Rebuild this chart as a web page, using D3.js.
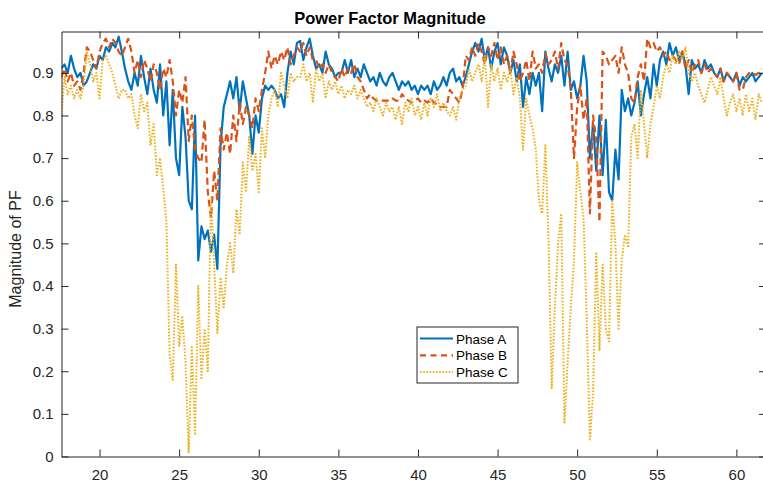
<!DOCTYPE html>
<html>
<head>
<meta charset="utf-8">
<script src="https://cdn.jsdelivr.net/npm/d3@7"></script>
<style>
  html, body { margin: 0; padding: 0; background: #fff; }
  svg { display: block; font-family: "Liberation Sans", Arial, Helvetica, sans-serif; }
</style>
</head>
<body>
<svg id="chart" width="763" height="482"></svg>
<script>
// Sample positions: time axis from 17.6 to 61.6 in steps of 0.2
const xStart = 17.6;
const xStep = 0.2;

const phaseA = [
  0.91,0.92,0.90,0.94,0.91, 0.89,0.90,0.87,0.88,0.90, 0.92,0.91,0.94,0.93,0.96,
  0.95,0.97,0.96,0.985,0.95, 0.91,0.88,0.86,0.90,0.87, 0.94,0.89,0.85,0.91,0.86,
  0.83,0.92,0.80,0.88,0.73, 0.86,0.70,0.66,0.82,0.75, 0.60,0.58,0.80,0.46,0.54,
  0.51,0.53,0.48,0.52,0.44, 0.73,0.82,0.85,0.88,0.84, 0.89,0.81,0.88,0.84,0.80,
  0.71,0.80,0.76,0.84,0.87, 0.86,0.87,0.86,0.84,0.85, 0.82,0.90,0.95,0.92,0.97,
  0.975,0.93,0.96,0.98,0.94, 0.91,0.92,0.90,0.95,0.92, 0.91,0.89,0.90,0.90,0.93,
  0.90,0.93,0.89,0.91,0.89, 0.92,0.90,0.88,0.89,0.87, 0.90,0.88,0.87,0.89,0.90,
  0.88,0.86,0.88,0.87,0.88, 0.86,0.87,0.85,0.87,0.86, 0.87,0.85,0.88,0.86,0.87,
  0.89,0.87,0.90,0.91,0.88, 0.89,0.87,0.89,0.92,0.95, 0.97,0.95,0.98,0.93,0.96,
  0.91,0.95,0.97,0.92,0.96, 0.94,0.90,0.93,0.88,0.92,
  0.82,0.89,0.85,0.90,0.87, 0.90,0.81,0.95,0.91,0.88, 0.92,0.90,0.94,0.87,0.95,
  0.86,0.88,0.84,0.87,0.94, 0.88,0.70,0.78,0.67,0.80, 0.66,0.79,0.62,0.60,0.72,
  0.65,0.86,0.81,0.84,0.80, 0.83,0.88,0.80,0.85,0.89, 0.84,0.92,0.87,0.93,0.95,
  0.92,0.97,0.94,0.96,0.93, 0.95,0.92,0.85,0.93,0.91, 0.92,0.90,0.93,0.91,0.92,
  0.90,0.89,0.91,0.88,0.90, 0.89,0.88,0.90,0.87,0.89, 0.88,0.89,0.90,0.88,0.89,
  0.90
];

const phaseB = [
  0.89,0.91,0.88,0.90,0.87, 0.88,0.86,0.90,0.96,0.95, 0.93,0.91,0.95,0.97,0.98,
  0.96,0.98,0.97,0.95,0.94, 0.96,0.98,0.95,0.90,0.93, 0.89,0.93,0.91,0.88,0.92,
  0.90,0.86,0.91,0.89,0.93, 0.88,0.80,0.86,0.83,0.89, 0.74,0.80,0.72,0.70,0.69,
  0.79,0.62,0.56,0.67,0.60, 0.77,0.72,0.76,0.71,0.80, 0.74,0.83,0.78,0.82,0.80,
  0.77,0.84,0.81,0.86,0.90, 0.95,0.91,0.94,0.92,0.95, 0.93,0.96,0.92,0.94,0.96,
  0.95,0.97,0.94,0.96,0.93, 0.93,0.91,0.92,0.90,0.92, 0.90,0.89,0.88,0.91,0.89,
  0.91,0.90,0.92,0.89,0.88, 0.86,0.84,0.85,0.84,0.835, 0.835,0.835,0.835,0.835,0.84,
  0.835,0.835,0.85,0.84,0.835, 0.83,0.835,0.84,0.83,0.835, 0.83,0.84,0.83,0.825,0.82,
  0.82,0.82,0.86,0.85,0.84, 0.83,0.86,0.94,0.93,0.96, 0.94,0.97,0.95,0.92,0.96,
  0.94,0.97,0.93,0.96,0.92, 0.94,0.90,0.95,0.92,0.88,
  0.90,0.93,0.88,0.95,0.91, 0.92,0.90,0.945,0.92,0.93, 0.95,0.91,0.97,0.93,0.92,
  0.86,0.70,0.82,0.87,0.79, 0.84,0.57,0.80,0.74,0.55, 0.95,0.94,0.92,0.93,0.94,
  0.90,0.96,0.92,0.90,0.84, 0.83,0.89,0.92,0.88,0.98, 0.96,0.97,0.95,0.96,0.94,
  0.95,0.93,0.94,0.93,0.92, 0.95,0.91,0.93,0.90,0.92, 0.93,0.90,0.92,0.90,0.91,
  0.90,0.89,0.91,0.88,0.90, 0.89,0.88,0.90,0.86,0.86, 0.89,0.90,0.90,0.895,0.90,
  0.91
];

const phaseC = [
  0.80,0.89,0.85,0.87,0.84, 0.86,0.84,0.87,0.95,0.92, 0.88,0.90,0.84,0.93,0.94,
  0.92,0.90,0.87,0.84,0.86, 0.86,0.84,0.85,0.80,0.77, 0.85,0.81,0.83,0.73,0.78,
  0.66,0.70,0.63,0.55,0.24, 0.18,0.45,0.26,0.33,0.22, 0.01,0.26,0.05,0.40,0.18,
  0.30,0.20,0.61,0.45,0.29, 0.42,0.35,0.45,0.50,0.43, 0.58,0.52,0.69,0.62,0.75,
  0.67,0.71,0.62,0.77,0.70, 0.80,0.84,0.86,0.82,0.90, 0.87,0.84,0.90,0.88,0.89,
  0.89,0.92,0.88,0.90,0.83, 0.91,0.88,0.90,0.84,0.88, 0.86,0.88,0.85,0.87,0.84,
  0.86,0.85,0.87,0.84,0.86, 0.84,0.82,0.83,0.81,0.84, 0.82,0.80,0.83,0.81,0.82,
  0.79,0.82,0.78,0.83,0.81, 0.84,0.80,0.82,0.79,0.83, 0.80,0.84,0.82,0.85,0.81,
  0.83,0.81,0.80,0.82,0.79, 0.84,0.86,0.87,0.91,0.88, 0.90,0.92,0.88,0.94,0.82,
  0.92,0.88,0.91,0.86,0.90, 0.88,0.91,0.85,0.89,0.84,
  0.72,0.84,0.80,0.77,0.72, 0.60,0.57,0.73,0.51,0.16, 0.35,0.50,0.57,0.08,0.22,
  0.35,0.46,0.69,0.62,0.56, 0.32,0.04,0.15,0.48,0.25, 0.45,0.30,0.27,0.60,0.50,
  0.30,0.46,0.52,0.49,0.75, 0.78,0.70,0.86,0.78,0.70, 0.78,0.82,0.87,0.84,0.89,
  0.92,0.90,0.94,0.92,0.95, 0.93,0.96,0.90,0.88,0.90, 0.87,0.85,0.83,0.86,0.89,
  0.87,0.85,0.89,0.84,0.80, 0.83,0.85,0.81,0.84,0.80, 0.85,0.81,0.84,0.79,0.85,
  0.83
];

const seriesNames = ["Phase A", "Phase B", "Phase C"];
const xTicks = [20, 25, 30, 35, 40, 45, 50, 55, 60];
const yTicks = [0, 0.1, 0.2, 0.3, 0.4, 0.5, 0.6, 0.7, 0.8, 0.9];

const styles = [
  { color: "#0072BD", width: 2.2, dash: null },
  { color: "#D95319", width: 2.2, dash: "7,4" },
  { color: "#EDB120", width: 2, dash: "1.6,1.6" }
];

const svg = d3.select("#chart");
const plotL = 61.5, plotR = 766, plotT = 31.5, plotB = 456.5;

const x = d3.scaleLinear().domain([17.61, 61.86]).range([plotL, plotR]);
const y = d3.scaleLinear().domain([0, 0.997]).range([plotB, plotT]);

const axisColor = "#262626";
const tickLen = 7;

svg.append("defs").append("clipPath").attr("id", "plotclip")
  .append("rect").attr("x", plotL).attr("y", plotT)
  .attr("width", plotR - plotL).attr("height", plotB - plotT);

// Data lines, drawn in series order
const line = d3.line()
  .x((d, i) => x(xStart + i * xStep))
  .y(d => y(d));

const plot = svg.append("g").attr("clip-path", "url(#plotclip)");
[phaseA, phaseB, phaseC].forEach((vals, k) => {
  plot.append("path")
    .datum(vals)
    .attr("d", line)
    .attr("fill", "none")
    .attr("stroke", styles[k].color)
    .attr("stroke-width", styles[k].width)
    .attr("stroke-linejoin", "round")
    .attr("stroke-dasharray", styles[k].dash);
});

// Axes: bottom and left with labels, top and right mirrored without labels
const fmtY = d => d === 0 ? "0" : d3.format(".1f")(d);

const gx = svg.append("g").attr("transform", `translate(0,${plotB})`)
  .call(d3.axisBottom(x).tickValues(xTicks).tickSizeInner(-tickLen).tickSizeOuter(0).tickPadding(13));
const gy = svg.append("g").attr("transform", `translate(${plotL},0)`)
  .call(d3.axisLeft(y).tickValues(yTicks).tickFormat(fmtY).tickSizeInner(-tickLen).tickSizeOuter(0).tickPadding(8));
const gxt = svg.append("g").attr("transform", `translate(0,${plotT})`)
  .call(d3.axisTop(x).tickValues(xTicks).tickSizeInner(-tickLen).tickSizeOuter(0).tickFormat(""));
const gyr = svg.append("g").attr("transform", `translate(${plotR},0)`)
  .call(d3.axisRight(y).tickValues(yTicks).tickSizeInner(-tickLen).tickSizeOuter(0).tickFormat(""));

[gx, gy, gxt, gyr].forEach(g => {
  g.select(".domain").attr("stroke", axisColor).attr("stroke-width", 1);
  g.selectAll(".tick line").attr("stroke", axisColor).attr("stroke-width", 1);
  g.selectAll(".tick text").attr("fill", axisColor)
    .style("font-size", "15px")
    .style("font-family", "'Liberation Sans', Arial, sans-serif");
});

// Title and y label
svg.append("text")
  .attr("x", 390).attr("y", 24)
  .attr("text-anchor", "middle")
  .style("font-size", "16.5px").style("font-weight", "bold")
  .attr("fill", "#000")
  .text("Power Factor Magnitude");

svg.append("text")
  .attr("transform", "translate(21,249) rotate(-90)")
  .attr("text-anchor", "middle")
  .style("font-size", "16px")
  .attr("fill", axisColor)
  .text("Magnitude of PF");

// Legend
const lg = svg.append("g").attr("transform", "translate(417,327)");
lg.append("rect").attr("x", 0).attr("y", 0).attr("width", 101).attr("height", 56)
  .attr("fill", "#fff").attr("stroke", axisColor).attr("stroke-width", 1);
seriesNames.forEach((name, k) => {
  const cy = 11.5 + k * 16.8;
  lg.append("line").attr("x1", 3).attr("x2", 36).attr("y1", cy).attr("y2", cy)
    .attr("stroke", styles[k].color).attr("stroke-width", styles[k].width)
    .attr("stroke-dasharray", k === 1 ? "6,4.5" : styles[k].dash);
  lg.append("text").attr("x", 39).attr("y", cy + 5)
    .style("font-size", "13.5px").attr("fill", "#000").text(name);
});
</script>
</body>
</html>
